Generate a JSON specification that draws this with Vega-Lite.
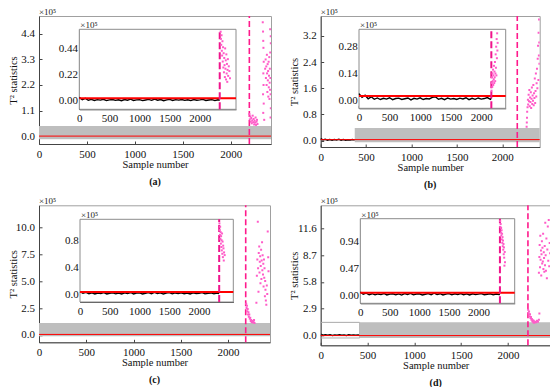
{
"$schema": "https://vega.github.io/schema/vega-lite/v6.json",
"background": "white",
"padding": {"left": 7, "top": 7, "right": 0, "bottom": 0},
"bounds": "flush",
"columns": 2,
"spacing": {"row": 58.3, "column": 49.7},
"config": {
 "font": "Liberation Serif, Times New Roman, serif",
 "view": {"stroke": "#a0a0a0", "strokeWidth": 1},
 "axis": {"grid": false, "domainColor": "#444", "tickColor": "#444", "tickSize": -3, "labelFont": "Liberation Serif, Times New Roman, serif", "labelFontSize": 11, "labelColor": "#111", "titleFont": "Liberation Serif, Times New Roman, serif", "titleFontSize": 10.5, "titleFontWeight": "normal", "titleColor": "#111", "labelPadding": 7.5, "titlePadding": 0, "zindex": 1, "labelFlush": false, "labelOverlap": false},
 "text": {"font": "Liberation Serif, Times New Roman, serif"},
 "title": {"orient": "bottom", "font": "Liberation Serif, Times New Roman, serif", "fontSize": 10, "fontWeight": "bold", "offset": 7, "color": "#111"}
},
"datasets": {
 "a_li": [{"x":0,"y":0.030},{"x":50,"y":0.010},{"x":100,"y":0.022},{"x":150,"y":0.006},{"x":200,"y":0.013},{"x":250,"y":0.004},{"x":300,"y":0.011},{"x":350,"y":0.007},{"x":400,"y":0.014},{"x":450,"y":0.003},{"x":500,"y":0.009},{"x":550,"y":0.012},{"x":600,"y":0.005},{"x":650,"y":0.010},{"x":700,"y":0.002},{"x":750,"y":0.012},{"x":800,"y":0.006},{"x":850,"y":0.015},{"x":900,"y":0.004},{"x":950,"y":0.009},{"x":1000,"y":0.011},{"x":1050,"y":0.003},{"x":1100,"y":0.008},{"x":1150,"y":0.013},{"x":1200,"y":0.005},{"x":1250,"y":0.016},{"x":1300,"y":0.006},{"x":1350,"y":0.012},{"x":1400,"y":0.002},{"x":1450,"y":0.009},{"x":1500,"y":0.013},{"x":1550,"y":0.004},{"x":1600,"y":0.011},{"x":1650,"y":0.007},{"x":1700,"y":0.012},{"x":1750,"y":0.005},{"x":1800,"y":0.010},{"x":1850,"y":0.003},{"x":1900,"y":0.012},{"x":1950,"y":0.006},{"x":2000,"y":0.009},{"x":2050,"y":0.013},{"x":2100,"y":0.004},{"x":2150,"y":0.008},{"x":2200,"y":0.011},{"x":2250,"y":0.003},{"x":2300,"y":0.010},{"x":2330,"y":0.006}],
 "b_li": [{"x":0,"y":0.035},{"x":50,"y":0.015},{"x":100,"y":0.026},{"x":150,"y":0.008},{"x":200,"y":0.018},{"x":250,"y":0.005},{"x":300,"y":0.012},{"x":350,"y":0.004},{"x":400,"y":0.010},{"x":450,"y":0.006},{"x":500,"y":0.013},{"x":550,"y":0.003},{"x":600,"y":0.009},{"x":650,"y":0.011},{"x":700,"y":0.004},{"x":750,"y":0.008},{"x":800,"y":0.012},{"x":850,"y":0.002},{"x":900,"y":0.010},{"x":950,"y":0.006},{"x":1000,"y":0.013},{"x":1050,"y":0.004},{"x":1100,"y":0.009},{"x":1150,"y":0.007},{"x":1200,"y":0.015},{"x":1250,"y":0.018},{"x":1300,"y":0.005},{"x":1350,"y":0.010},{"x":1400,"y":0.003},{"x":1450,"y":0.012},{"x":1500,"y":0.006},{"x":1550,"y":0.009},{"x":1600,"y":0.004},{"x":1650,"y":0.011},{"x":1700,"y":0.007},{"x":1750,"y":0.013},{"x":1800,"y":0.003},{"x":1850,"y":0.010},{"x":1900,"y":0.005},{"x":1950,"y":0.012},{"x":2000,"y":0.006},{"x":2050,"y":0.009},{"x":2100,"y":0.014},{"x":2150,"y":0.005},{"x":2165,"y":0.010}],
 "c_li": [{"x":0,"y":0.040},{"x":50,"y":0.015},{"x":100,"y":0.028},{"x":150,"y":0.008},{"x":200,"y":0.022},{"x":250,"y":0.006},{"x":300,"y":0.018},{"x":350,"y":0.010},{"x":400,"y":0.025},{"x":450,"y":0.005},{"x":500,"y":0.016},{"x":550,"y":0.021},{"x":600,"y":0.007},{"x":650,"y":0.019},{"x":700,"y":0.004},{"x":750,"y":0.023},{"x":800,"y":0.011},{"x":850,"y":0.027},{"x":900,"y":0.006},{"x":950,"y":0.017},{"x":1000,"y":0.020},{"x":1050,"y":0.005},{"x":1100,"y":0.015},{"x":1150,"y":0.024},{"x":1200,"y":0.009},{"x":1250,"y":0.030},{"x":1300,"y":0.012},{"x":1350,"y":0.022},{"x":1400,"y":0.004},{"x":1450,"y":0.017},{"x":1500,"y":0.025},{"x":1550,"y":0.007},{"x":1600,"y":0.020},{"x":1650,"y":0.012},{"x":1700,"y":0.023},{"x":1750,"y":0.008},{"x":1800,"y":0.018},{"x":1850,"y":0.005},{"x":1900,"y":0.021},{"x":1950,"y":0.010},{"x":2000,"y":0.016},{"x":2050,"y":0.024},{"x":2100,"y":0.007},{"x":2150,"y":0.015},{"x":2200,"y":0.020},{"x":2250,"y":0.006},{"x":2300,"y":0.018},{"x":2338,"y":0.011}],
 "d_li": [{"x":0,"y":0.055},{"x":50,"y":0.020},{"x":100,"y":0.038},{"x":150,"y":0.010},{"x":200,"y":0.028},{"x":250,"y":0.008},{"x":300,"y":0.024},{"x":350,"y":0.013},{"x":400,"y":0.032},{"x":450,"y":0.006},{"x":500,"y":0.021},{"x":550,"y":0.027},{"x":600,"y":0.009},{"x":650,"y":0.025},{"x":700,"y":0.005},{"x":750,"y":0.030},{"x":800,"y":0.014},{"x":850,"y":0.035},{"x":900,"y":0.008},{"x":950,"y":0.022},{"x":1000,"y":0.026},{"x":1050,"y":0.007},{"x":1100,"y":0.019},{"x":1150,"y":0.031},{"x":1200,"y":0.012},{"x":1250,"y":0.038},{"x":1300,"y":0.015},{"x":1350,"y":0.028},{"x":1400,"y":0.006},{"x":1450,"y":0.022},{"x":1500,"y":0.032},{"x":1550,"y":0.009},{"x":1600,"y":0.026},{"x":1650,"y":0.015},{"x":1700,"y":0.030},{"x":1750,"y":0.010},{"x":1800,"y":0.024},{"x":1850,"y":0.007},{"x":1900,"y":0.027},{"x":1950,"y":0.013},{"x":2000,"y":0.021},{"x":2050,"y":0.031},{"x":2100,"y":0.009},{"x":2150,"y":0.019},{"x":2200,"y":0.026},{"x":2250,"y":0.008},{"x":2300,"y":0.023},{"x":2350,"y":0.012},{"x":2364,"y":0.018}],
 "b_lm": [{"x":0,"y":0.06},{"x":25,"y":0.02},{"x":50,"y":0.04},{"x":75,"y":0.015},{"x":100,"y":0.03},{"x":125,"y":0.01},{"x":150,"y":0.035},{"x":175,"y":0.02},{"x":200,"y":0.04},{"x":225,"y":0.015},{"x":250,"y":0.03},{"x":275,"y":0.01},{"x":300,"y":0.025},{"x":325,"y":0.02},{"x":350,"y":0.035},{"x":375,"y":0.015}],
 "d_lm": [{"x":0,"y":0.15},{"x":25,"y":0.05},{"x":50,"y":0.1},{"x":75,"y":0.03},{"x":100,"y":0.08},{"x":125,"y":0.02},{"x":150,"y":0.07},{"x":175,"y":0.04},{"x":200,"y":0.09},{"x":225,"y":0.03},{"x":250,"y":0.06},{"x":275,"y":0.02},{"x":300,"y":0.08},{"x":325,"y":0.04},{"x":350,"y":0.07},{"x":375,"y":0.03},{"x":400,"y":0.06},{"x":416,"y":0.04}],
 "a_pm": [{"x":2195,"y":0.95},{"x":2200,"y":0.72},{"x":2205,"y":0.85},{"x":2210,"y":0.62},{"x":2215,"y":0.78},{"x":2220,"y":0.55},{"x":2225,"y":0.68},{"x":2230,"y":0.88},{"x":2235,"y":0.6},{"x":2240,"y":0.74},{"x":2245,"y":0.5},{"x":2250,"y":0.66},{"x":2255,"y":0.58},{"x":2260,"y":0.8},{"x":2265,"y":0.48},{"x":2270,"y":0.62},{"x":2275,"y":0.7},{"x":2280,"y":0.52},{"x":2335,"y":4.9},{"x":2338,"y":4.5},{"x":2340,"y":4.1},{"x":2342,"y":3.8},{"x":2345,"y":3.2},{"x":2341,"y":2.7},{"x":2343,"y":2.2},{"x":2338,"y":1.8},{"x":2345,"y":1.4},{"x":2340,"y":1.0},{"x":2350,"y":0.7},{"x":2360,"y":2.9},{"x":2365,"y":3.3},{"x":2368,"y":2.5},{"x":2372,"y":3.0},{"x":2375,"y":2.2},{"x":2378,"y":3.5},{"x":2380,"y":2.7},{"x":2383,"y":1.9},{"x":2386,"y":3.1},{"x":2388,"y":2.4},{"x":2391,"y":2.8},{"x":2393,"y":1.7},{"x":2396,"y":3.2},{"x":2398,"y":2.1},{"x":2400,"y":2.6},{"x":2403,"y":3.4},{"x":2405,"y":1.6},{"x":2407,"y":2.3},{"x":2409,"y":2.9},{"x":2411,"y":2.0},{"x":2413,"y":3.6},{"x":2415,"y":2.5},{"x":2417,"y":1.8},{"x":2418,"y":4.3},{"x":2419,"y":4.0},{"x":2412,"y":4.6},{"x":2419,"y":1.2},{"x":2416,"y":0.8}],
 "a_pi": [{"x":2345,"y":0.58},{"x":2350,"y":0.52},{"x":2355,"y":0.47},{"x":2360,"y":0.55},{"x":2365,"y":0.42},{"x":2370,"y":0.38},{"x":2375,"y":0.5},{"x":2380,"y":0.33},{"x":2385,"y":0.45},{"x":2390,"y":0.28},{"x":2395,"y":0.4},{"x":2400,"y":0.24},{"x":2405,"y":0.36},{"x":2410,"y":0.3},{"x":2415,"y":0.2},{"x":2420,"y":0.44},{"x":2425,"y":0.27},{"x":2430,"y":0.34},{"x":2435,"y":0.18},{"x":2440,"y":0.39},{"x":2445,"y":0.23},{"x":2450,"y":0.31},{"x":2455,"y":0.16},{"x":2460,"y":0.26},{"x":2465,"y":0.35},{"x":2470,"y":0.21},{"x":2480,"y":0.29},{"x":2490,"y":0.25},{"x":2500,"y":0.19}],
 "b_pm": [{"x":2268,"y":0.42},{"x":2270,"y":0.55},{"x":2272,"y":0.7},{"x":2274,"y":0.88},{"x":2278,"y":1.02},{"x":2282,"y":1.25},{"x":2285,"y":1.1},{"x":2290,"y":1.4},{"x":2294,"y":1.2},{"x":2298,"y":1.55},{"x":2302,"y":1.05},{"x":2306,"y":1.32},{"x":2310,"y":1.18},{"x":2314,"y":1.48},{"x":2318,"y":1.0},{"x":2322,"y":1.28},{"x":2326,"y":1.62},{"x":2330,"y":1.12},{"x":2334,"y":1.38},{"x":2338,"y":1.22},{"x":2342,"y":1.7},{"x":2346,"y":1.08},{"x":2350,"y":1.45},{"x":2354,"y":1.3},{"x":2358,"y":1.9},{"x":2362,"y":1.15},{"x":2366,"y":1.52},{"x":2370,"y":2.05},{"x":2374,"y":1.35},{"x":2378,"y":1.75},{"x":2382,"y":2.2},{"x":2386,"y":1.6},{"x":2390,"y":2.5},{"x":2394,"y":2.9},{"x":2398,"y":1.85},{"x":2400,"y":3.3},{"x":2403,"y":2.6},{"x":2405,"y":3.7},{"x":2407,"y":3.0},{"x":2409,"y":2.35}],
 "b_pi": [{"x":2168,"y":0.05},{"x":2172,"y":0.09},{"x":2176,"y":0.12},{"x":2180,"y":0.07},{"x":2184,"y":0.14},{"x":2188,"y":0.1},{"x":2192,"y":0.16},{"x":2196,"y":0.08},{"x":2200,"y":0.13},{"x":2204,"y":0.11},{"x":2208,"y":0.18},{"x":2212,"y":0.09},{"x":2216,"y":0.15},{"x":2220,"y":0.12},{"x":2224,"y":0.2},{"x":2228,"y":0.1},{"x":2232,"y":0.14},{"x":2236,"y":0.24},{"x":2240,"y":0.17},{"x":2244,"y":0.28},{"x":2248,"y":0.13},{"x":2252,"y":0.32},{"x":2256,"y":0.22},{"x":2260,"y":0.35},{"x":2264,"y":0.26},{"x":2268,"y":0.3}],
 "c_pm": [{"x":2192,"y":2.9},{"x":2196,"y":2.5},{"x":2200,"y":2.7},{"x":2204,"y":2.2},{"x":2208,"y":2.4},{"x":2212,"y":1.9},{"x":2216,"y":2.1},{"x":2220,"y":1.7},{"x":2225,"y":1.9},{"x":2230,"y":1.5},{"x":2235,"y":1.6},{"x":2240,"y":1.3},{"x":2245,"y":1.4},{"x":2250,"y":1.2},{"x":2255,"y":1.3},{"x":2260,"y":1.15},{"x":2265,"y":1.25},{"x":2270,"y":1.2},{"x":2275,"y":1.4},{"x":2280,"y":1.1},{"x":2300,"y":3.0},{"x":2305,"y":5.5},{"x":2310,"y":7.0},{"x":2315,"y":10.5},{"x":2318,"y":6.2},{"x":2322,"y":4.0},{"x":2325,"y":7.6},{"x":2330,"y":8.2},{"x":2333,"y":5.8},{"x":2336,"y":6.8},{"x":2340,"y":7.3},{"x":2343,"y":4.8},{"x":2346,"y":6.4},{"x":2350,"y":7.9},{"x":2353,"y":5.2},{"x":2356,"y":6.9},{"x":2360,"y":8.6},{"x":2363,"y":6.0},{"x":2366,"y":7.4},{"x":2370,"y":5.6},{"x":2373,"y":6.6},{"x":2376,"y":4.5},{"x":2380,"y":7.0},{"x":2383,"y":5.3},{"x":2386,"y":6.2},{"x":2390,"y":3.6},{"x":2393,"y":5.0},{"x":2396,"y":4.2},{"x":2400,"y":3.2},{"x":2405,"y":2.8},{"x":2410,"y":4.6},{"x":2415,"y":3.8},{"x":2420,"y":9.6},{"x":2425,"y":7.2},{"x":2428,"y":5.9}],
 "c_pi": [{"x":2342,"y":1.05},{"x":2346,"y":0.95},{"x":2350,"y":0.88},{"x":2354,"y":1.0},{"x":2358,"y":0.82},{"x":2362,"y":0.92},{"x":2366,"y":0.75},{"x":2370,"y":0.86},{"x":2374,"y":0.7},{"x":2378,"y":0.8},{"x":2382,"y":0.65},{"x":2386,"y":0.9},{"x":2390,"y":0.6},{"x":2395,"y":0.78},{"x":2400,"y":0.55},{"x":2405,"y":0.72},{"x":2410,"y":0.68},{"x":2415,"y":0.5},{"x":2420,"y":0.62},{"x":2430,"y":0.58}],
 "d_pm": [{"x":2215,"y":2.8},{"x":2220,"y":2.4},{"x":2225,"y":2.6},{"x":2230,"y":2.1},{"x":2235,"y":2.3},{"x":2240,"y":1.9},{"x":2245,"y":2.0},{"x":2250,"y":1.7},{"x":2255,"y":1.8},{"x":2260,"y":1.55},{"x":2265,"y":1.65},{"x":2270,"y":1.45},{"x":2275,"y":1.6},{"x":2280,"y":1.4},{"x":2290,"y":1.5},{"x":2300,"y":1.45},{"x":2310,"y":1.6},{"x":2320,"y":1.5},{"x":2330,"y":1.7},{"x":2335,"y":2.4},{"x":2330,"y":6.8},{"x":2335,"y":8.5},{"x":2338,"y":9.8},{"x":2342,"y":7.4},{"x":2345,"y":10.8},{"x":2348,"y":8.2},{"x":2352,"y":9.2},{"x":2355,"y":6.5},{"x":2358,"y":8.8},{"x":2362,"y":10.2},{"x":2365,"y":7.8},{"x":2368,"y":9.5},{"x":2372,"y":8.0},{"x":2375,"y":11.0},{"x":2378,"y":7.2},{"x":2382,"y":9.0},{"x":2385,"y":8.4},{"x":2388,"y":6.9},{"x":2392,"y":9.7},{"x":2395,"y":7.6},{"x":2398,"y":12.2},{"x":2402,"y":8.7},{"x":2405,"y":7.0},{"x":2410,"y":10.5},{"x":2415,"y":6.2},{"x":2420,"y":9.3},{"x":2425,"y":11.8},{"x":2430,"y":8.1},{"x":2435,"y":12.5},{"x":2440,"y":7.5},{"x":2445,"y":10.0},{"x":2450,"y":8.9}],
 "d_pi": [{"x":2368,"y":1.3},{"x":2372,"y":1.2},{"x":2376,"y":1.25},{"x":2380,"y":1.1},{"x":2384,"y":1.18},{"x":2388,"y":1.05},{"x":2392,"y":1.14},{"x":2396,"y":0.98},{"x":2400,"y":1.08},{"x":2404,"y":0.92},{"x":2408,"y":1.02},{"x":2412,"y":0.86},{"x":2416,"y":0.96},{"x":2420,"y":0.8},{"x":2424,"y":0.9},{"x":2428,"y":0.72},{"x":2432,"y":0.84},{"x":2436,"y":0.66},{"x":2440,"y":0.52},{"x":2445,"y":0.76},{"x":2450,"y":0.58}]
},
"concat": [
 {
  "width": 232, "height": 128,
  "title": {"text": "(a)"},
  "resolve": {"scale": {"x": "independent", "y": "independent"}},
  "layer": [
   {
    "encoding": {
     "x": {"field": "x", "type": "quantitative", "scale": {"domain": [0, 2421], "nice": false, "zero": false}, "axis": {"values": [0, 500, 1000, 1500, 2000], "format": "d", "title": "Sample number"}},
     "y": {"field": "y", "type": "quantitative", "scale": {"domain": [-0.34, 5.17], "nice": false, "zero": false}, "axis": {"values": [0, 1.1, 2.2, 3.3, 4.4], "format": ".1f", "title": "T² statistics", "titleX": -21, "labelPadding": 7.4}}
    },
    "layer": [
     {"data": {"values": [{"x": 0, "x2": 2421, "y": -0.14, "y2": 0.43}]}, "mark": {"type": "rect", "fill": "#bebebe"}, "encoding": {"x2": {"field": "x2"}, "y2": {"field": "y2"}}},
     {"data": {"values": [{"x": 0, "x2": 2421, "y": 0}]}, "mark": {"type": "rule", "color": "#ff0000", "strokeWidth": 1}, "encoding": {"x2": {"field": "x2"}}},
     {"data": {"values": [{"x": 2195, "y": -0.34, "y2": 5.17}]}, "mark": {"type": "rule", "color": "#ff1a8c", "strokeWidth": 1.6, "strokeDash": [6, 3]}, "encoding": {"y2": {"field": "y2"}}},
     {"data": {"name": "a_pm"}, "mark": {"type": "point", "shape": "square", "filled": true, "size": 4, "color": "#ff5cc8", "opacity": 1, "clip": true}},
     {"data": {"values": [{"x": 0, "y": 5.17, "t": "×10⁵"}]}, "mark": {"type": "text", "align": "left", "baseline": "alphabetic", "dy": -1, "fontSize": 9, "color": "#222"}, "encoding": {"text": {"field": "t"}}}
    ]
   },
   {
    "encoding": {
     "x": {"field": "x", "type": "quantitative", "scale": {"domain": [0, 2600], "range": [40.3, 197], "nice": false, "zero": false}, "axis": {"orient": "bottom", "offset": -34.7, "values": [0, 500, 1000, 1500, 2000], "format": "d", "title": null, "labelPadding": 6.5}},
     "y": {"field": "y", "type": "quantitative", "scale": {"domain": [-0.07, 0.6], "range": [93.3, 13.3], "nice": false, "zero": false}, "axis": {"orient": "left", "offset": -40.3, "values": [0, 0.22, 0.44], "format": ".2f", "title": null, "labelPadding": 4.7}}
    },
    "layer": [
     {"data": {"values": [{"x": 0, "x2": 2600, "y": -0.07, "y2": 0.6}]}, "mark": {"type": "rect", "fill": "white", "stroke": "#8c8c8c", "strokeWidth": 1}, "encoding": {"x2": {"field": "x2"}, "y2": {"field": "y2"}}},
     {"data": {"name": "a_li"}, "mark": {"type": "line", "color": "#000", "strokeWidth": 1.4}},
     {"data": {"values": [{"x": 0, "x2": 2600, "y": 0.022}]}, "mark": {"type": "rule", "color": "#ff0000", "strokeWidth": 2}, "encoding": {"x2": {"field": "x2"}}},
     {"data": {"values": [{"x": 2330, "y": -0.07, "y2": 0.6}]}, "mark": {"type": "rule", "color": "#f0148c", "strokeWidth": 2, "strokeDash": [7, 3]}, "encoding": {"y2": {"field": "y2"}}},
     {"data": {"name": "a_pi"}, "mark": {"type": "point", "shape": "square", "filled": true, "size": 4, "color": "#ff5cc8", "opacity": 1}},
     {"data": {"values": [{"x": 0, "y": 0.6, "t": "×10⁵"}]}, "mark": {"type": "text", "align": "left", "baseline": "alphabetic", "dy": -1, "dx": 1, "fontSize": 9, "color": "#222"}, "encoding": {"text": {"field": "t"}}}
    ]
   }
  ]
 },
 {
  "width": 219, "height": 131,
  "title": {"text": "(b)"},
  "resolve": {"scale": {"x": "independent", "y": "independent"}},
  "layer": [
   {
    "encoding": {
     "x": {"field": "x", "type": "quantitative", "scale": {"domain": [0, 2412], "nice": false, "zero": false}, "axis": {"values": [0, 500, 1000, 1500, 2000], "format": "d", "title": "Sample number"}},
     "y": {"field": "y", "type": "quantitative", "scale": {"domain": [-0.196, 3.81], "nice": false, "zero": false}, "axis": {"values": [0, 0.8, 1.6, 2.4, 3.2], "format": ".1f", "title": "T² statistics", "titleX": -21, "labelPadding": 7.4}}
    },
    "layer": [
     {"data": {"name": "b_lm"}, "mark": {"type": "line", "color": "#000", "strokeWidth": 1.5}},
     {"data": {"values": [{"x": 375, "x2": 2412, "y": -0.052, "y2": 0.386}]}, "mark": {"type": "rect", "fill": "#bebebe"}, "encoding": {"x2": {"field": "x2"}, "y2": {"field": "y2"}}},
     {"data": {"values": [{"x": 0, "x2": 2412, "y": 0.03}]}, "mark": {"type": "rule", "color": "#ff0000", "strokeWidth": 1}, "encoding": {"x2": {"field": "x2"}}},
     {"data": {"values": [{"x": 2165, "y": -0.196, "y2": 3.81}]}, "mark": {"type": "rule", "color": "#ff1a8c", "strokeWidth": 1.6, "strokeDash": [6, 3]}, "encoding": {"y2": {"field": "y2"}}},
     {"data": {"name": "b_pm"}, "mark": {"type": "point", "shape": "square", "filled": true, "size": 4, "color": "#ff5cc8", "opacity": 1, "clip": true}},
     {"data": {"values": [{"x": 0, "y": 3.81, "t": "×10⁵"}]}, "mark": {"type": "text", "align": "left", "baseline": "alphabetic", "dy": -1, "fontSize": 9, "color": "#222"}, "encoding": {"text": {"field": "t"}}}
    ]
   },
   {
    "encoding": {
     "x": {"field": "x", "type": "quantitative", "scale": {"domain": [0, 2400], "range": [38.3, 185], "nice": false, "zero": false}, "axis": {"orient": "bottom", "offset": -38.7, "values": [0, 500, 1000, 1500, 2000], "format": "d", "title": null, "labelPadding": 6.5}},
     "y": {"field": "y", "type": "quantitative", "scale": {"domain": [-0.042, 0.371], "range": [92.3, 13.3], "nice": false, "zero": false}, "axis": {"orient": "left", "offset": -38.3, "values": [0, 0.14, 0.28], "format": ".2f", "title": null, "labelPadding": 4.7}}
    },
    "layer": [
     {"data": {"values": [{"x": 0, "x2": 2400, "y": -0.042, "y2": 0.371}]}, "mark": {"type": "rect", "fill": "white", "stroke": "#8c8c8c", "strokeWidth": 1}, "encoding": {"x2": {"field": "x2"}, "y2": {"field": "y2"}}},
     {"data": {"name": "b_li"}, "mark": {"type": "line", "color": "#000", "strokeWidth": 1.4}},
     {"data": {"values": [{"x": 0, "x2": 2400, "y": 0.022}]}, "mark": {"type": "rule", "color": "#ff0000", "strokeWidth": 2}, "encoding": {"x2": {"field": "x2"}}},
     {"data": {"values": [{"x": 2165, "y": -0.042, "y2": 0.371}]}, "mark": {"type": "rule", "color": "#f0148c", "strokeWidth": 2, "strokeDash": [7, 3]}, "encoding": {"y2": {"field": "y2"}}},
     {"data": {"name": "b_pi"}, "mark": {"type": "point", "shape": "square", "filled": true, "size": 4, "color": "#ff5cc8", "opacity": 1}},
     {"data": {"values": [{"x": 0, "y": 0.371, "t": "×10⁵"}]}, "mark": {"type": "text", "align": "left", "baseline": "alphabetic", "dy": -1, "dx": 1, "fontSize": 9, "color": "#222"}, "encoding": {"text": {"field": "t"}}}
    ]
   }
  ]
 },
 {
  "width": 231, "height": 137,
  "title": {"text": "(c)"},
  "resolve": {"scale": {"x": "independent", "y": "independent"}},
  "layer": [
   {
    "encoding": {
     "x": {"field": "x", "type": "quantitative", "scale": {"domain": [0, 2444], "nice": false, "zero": false}, "axis": {"values": [0, 500, 1000, 1500, 2000], "format": "d", "title": "Sample number"}},
     "y": {"field": "y", "type": "quantitative", "scale": {"domain": [-0.68, 12.03], "nice": false, "zero": false}, "axis": {"values": [0, 2.5, 5, 7.5, 10], "format": ".1f", "title": "T² statistics", "titleX": -21, "labelPadding": 7.4}}
    },
    "layer": [
     {"data": {"values": [{"x": 0, "x2": 2444, "y": -0.12, "y2": 1.12}]}, "mark": {"type": "rect", "fill": "#bebebe"}, "encoding": {"x2": {"field": "x2"}, "y2": {"field": "y2"}}},
     {"data": {"values": [{"x": 0, "x2": 2444, "y": 0.05}]}, "mark": {"type": "rule", "color": "#ff0000", "strokeWidth": 1}, "encoding": {"x2": {"field": "x2"}}},
     {"data": {"values": [{"x": 2187, "y": -0.68, "y2": 12.03}]}, "mark": {"type": "rule", "color": "#ff1a8c", "strokeWidth": 1.6, "strokeDash": [6, 3]}, "encoding": {"y2": {"field": "y2"}}},
     {"data": {"name": "c_pm"}, "mark": {"type": "point", "shape": "square", "filled": true, "size": 4, "color": "#ff5cc8", "opacity": 1, "clip": true}},
     {"data": {"values": [{"x": 0, "y": 12.03, "t": "×10⁵"}]}, "mark": {"type": "text", "align": "left", "baseline": "alphabetic", "dy": -1, "fontSize": 9, "color": "#222"}, "encoding": {"text": {"field": "t"}}}
    ]
   },
   {
    "encoding": {
     "x": {"field": "x", "type": "quantitative", "scale": {"domain": [0, 2575], "range": [41, 194.3], "nice": false, "zero": false}, "axis": {"orient": "bottom", "offset": -40.3, "values": [0, 500, 1000, 1500, 2000], "format": "d", "title": null, "labelPadding": 6.5}},
     "y": {"field": "y", "type": "quantitative", "scale": {"domain": [-0.114, 1.11], "range": [96.7, 14], "nice": false, "zero": false}, "axis": {"orient": "left", "offset": -41, "values": [0, 0.4, 0.8], "format": ".1f", "title": null, "labelPadding": 4.7}}
    },
    "layer": [
     {"data": {"values": [{"x": 0, "x2": 2575, "y": -0.114, "y2": 1.11}]}, "mark": {"type": "rect", "fill": "white", "stroke": "#8c8c8c", "strokeWidth": 1}, "encoding": {"x2": {"field": "x2"}, "y2": {"field": "y2"}}},
     {"data": {"name": "c_li"}, "mark": {"type": "line", "color": "#000", "strokeWidth": 1.4}},
     {"data": {"values": [{"x": 0, "x2": 2575, "y": 0.035}]}, "mark": {"type": "rule", "color": "#ff0000", "strokeWidth": 2}, "encoding": {"x2": {"field": "x2"}}},
     {"data": {"values": [{"x": 2338, "y": -0.114, "y2": 1.11}]}, "mark": {"type": "rule", "color": "#f0148c", "strokeWidth": 2, "strokeDash": [7, 3]}, "encoding": {"y2": {"field": "y2"}}},
     {"data": {"name": "c_pi"}, "mark": {"type": "point", "shape": "square", "filled": true, "size": 4, "color": "#ff5cc8", "opacity": 1}},
     {"data": {"values": [{"x": 0, "y": 1.11, "t": "×10⁵"}]}, "mark": {"type": "text", "align": "left", "baseline": "alphabetic", "dy": -1, "dx": 1, "fontSize": 9, "color": "#222"}, "encoding": {"text": {"field": "t"}}}
    ]
   }
  ]
 },
 {
  "width": 230, "height": 140,
  "title": {"text": "(d)"},
  "resolve": {"scale": {"x": "independent", "y": "independent"}},
  "layer": [
   {
    "encoding": {
     "x": {"field": "x", "type": "quantitative", "scale": {"domain": [0, 2456], "nice": false, "zero": false}, "axis": {"values": [0, 500, 1000, 1500, 2000], "format": "d", "title": "Sample number"}},
     "y": {"field": "y", "type": "quantitative", "scale": {"domain": [-1.05, 14.09], "nice": false, "zero": false}, "axis": {"values": [0, 2.9, 5.8, 8.7, 11.6], "format": ".1f", "title": "T² statistics", "titleX": -21, "labelPadding": 7.4}}
    },
    "layer": [
     {"data": {"name": "d_lm"}, "mark": {"type": "line", "color": "#000", "strokeWidth": 1.5}},
     {"data": {"values": [{"x": 0, "x2": 416, "y": -0.26, "y2": 1.43}]}, "mark": {"type": "rect", "fill": null, "fillOpacity": 0, "stroke": "#aaaaaa", "strokeWidth": 1}, "encoding": {"x2": {"field": "x2"}, "y2": {"field": "y2"}}},
     {"data": {"values": [{"x": 416, "x2": 2456, "y": -0.26, "y2": 1.43}]}, "mark": {"type": "rect", "fill": "#bebebe"}, "encoding": {"x2": {"field": "x2"}, "y2": {"field": "y2"}}},
     {"data": {"values": [{"x": 0, "x2": 2456, "y": 0}]}, "mark": {"type": "rule", "color": "#ff0000", "strokeWidth": 1}, "encoding": {"x2": {"field": "x2"}}},
     {"data": {"values": [{"x": 2213, "y": -1.05, "y2": 14.09}]}, "mark": {"type": "rule", "color": "#ff1a8c", "strokeWidth": 1.6, "strokeDash": [6, 3]}, "encoding": {"y2": {"field": "y2"}}},
     {"data": {"name": "d_pm"}, "mark": {"type": "point", "shape": "square", "filled": true, "size": 4, "color": "#ff5cc8", "opacity": 1, "clip": true}},
     {"data": {"values": [{"x": 0, "y": 14.09, "t": "×10⁵"}]}, "mark": {"type": "text", "align": "left", "baseline": "alphabetic", "dy": -1, "fontSize": 9, "color": "#222"}, "encoding": {"text": {"field": "t"}}}
    ]
   },
   {
    "encoding": {
     "x": {"field": "x", "type": "quantitative", "scale": {"domain": [0, 2614], "range": [39.6, 194], "nice": false, "zero": false}, "axis": {"orient": "bottom", "offset": -42, "values": [0, 500, 1000, 1500, 2000], "format": "d", "title": null, "labelPadding": 6.5}},
     "y": {"field": "y", "type": "quantitative", "scale": {"domain": [-0.14, 1.343], "range": [98, 13.4], "nice": false, "zero": false}, "axis": {"orient": "left", "offset": -39.6, "values": [0, 0.47, 0.94], "format": ".2f", "title": null, "labelPadding": 4.7}}
    },
    "layer": [
     {"data": {"values": [{"x": 0, "x2": 2614, "y": -0.14, "y2": 1.343}]}, "mark": {"type": "rect", "fill": "white", "stroke": "#8c8c8c", "strokeWidth": 1}, "encoding": {"x2": {"field": "x2"}, "y2": {"field": "y2"}}},
     {"data": {"name": "d_li"}, "mark": {"type": "line", "color": "#000", "strokeWidth": 1.4}},
     {"data": {"values": [{"x": 0, "x2": 2614, "y": 0.046}]}, "mark": {"type": "rule", "color": "#ff0000", "strokeWidth": 2}, "encoding": {"x2": {"field": "x2"}}},
     {"data": {"values": [{"x": 2364, "y": -0.14, "y2": 1.343}]}, "mark": {"type": "rule", "color": "#f0148c", "strokeWidth": 2, "strokeDash": [7, 3]}, "encoding": {"y2": {"field": "y2"}}},
     {"data": {"name": "d_pi"}, "mark": {"type": "point", "shape": "square", "filled": true, "size": 4, "color": "#ff5cc8", "opacity": 1}},
     {"data": {"values": [{"x": 0, "y": 1.343, "t": "×10⁵"}]}, "mark": {"type": "text", "align": "left", "baseline": "alphabetic", "dy": -1, "dx": 1, "fontSize": 9, "color": "#222"}, "encoding": {"text": {"field": "t"}}}
    ]
   }
  ]
 }
]
}
